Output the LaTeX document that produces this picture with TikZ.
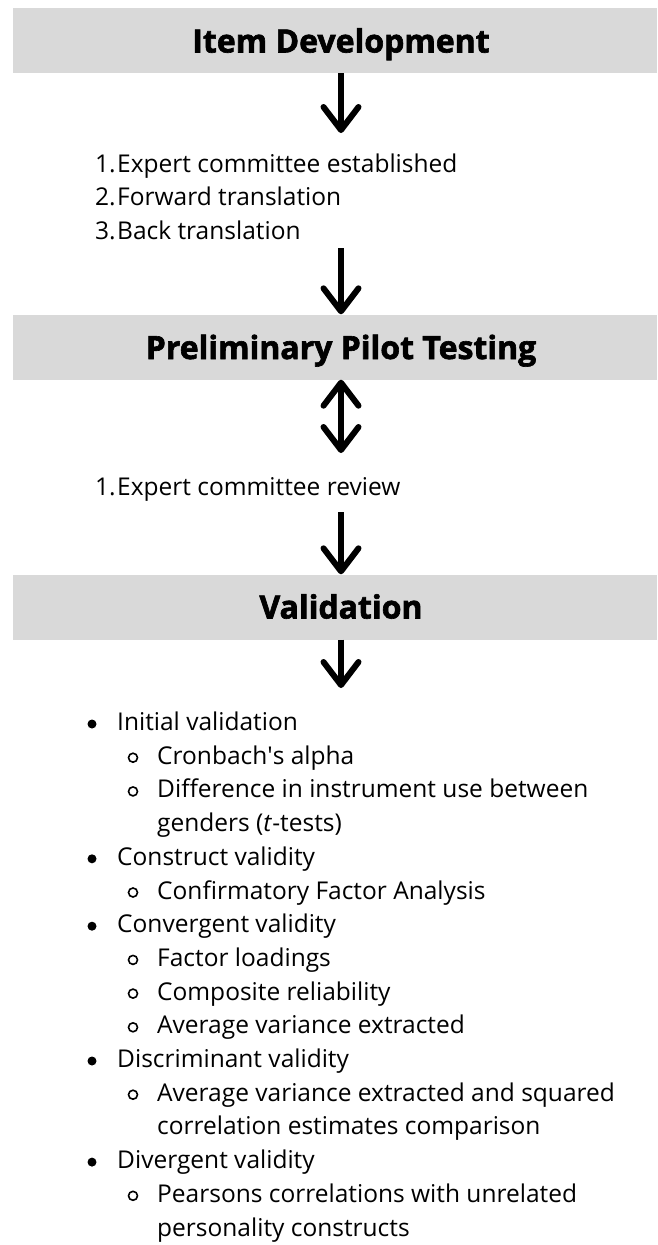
\documentclass[tikz,border=0pt]{standalone}
\usepackage{fontspec}
\setmainfont{Open Sans}
\newfontfamily\headfont{Open Sans}[BoldFeatures={FakeBold=2}]
\usetikzlibrary{arrows.meta}
\definecolor{boxgray}{HTML}{D9D9D9}
\begin{document}
\begin{tikzpicture}[x=1pt,y=-1pt,
  hbox/.style={fill=boxgray, draw=none, minimum width=644pt, minimum height=65pt, inner sep=0pt},
  head/.style={font=\headfont\bfseries\fontsize{32}{32}\selectfont, anchor=base, inner sep=0pt},
  txt/.style={font=\fontsize{24.5}{24.5}\selectfont, anchor=base west, inner sep=0pt},
  arr/.style={line width=6pt, -{Straight Barb[length=23pt,width=35pt,round]}},
  darr/.style={line width=6pt, {Straight Barb[length=23pt,width=35pt,round]}-{Straight Barb[length=23pt,width=35pt,round]}},
  dotb/.style={circle, fill=black, inner sep=0pt, minimum size=9pt},
  ringb/.style={circle, draw=black, line width=1.6pt, inner sep=0pt, minimum size=9pt},
]
\fill[white] (0,0) rectangle (657,1245);
\useasboundingbox (0,0) rectangle (657,1245);

% heading boxes
\node[hbox] (box1) at (335,40.5) {};
\node[head] (t1) at (341,52.5) {Item Development};
\node[hbox] (box2) at (335,347) {};
\node[head] (t2) at (341,359) {Preliminary Pilot Testing};
\node[hbox] (box3) at (335,607) {};
\node[head] (t3) at (341,618.5) {Validation};

% list 1
\node[txt] (n1) at (95,172) {1.};
\node[txt] (l1a) at (117,172) {Expert committee established};
\node[txt] (n2) at (95,205.5) {2.};
\node[txt] (l1b) at (117,205.5) {Forward translation};
\node[txt] (n3) at (95,239) {3.};
\node[txt] (l1c) at (117,239) {Back translation};

% list 2
\node[txt] (n4) at (95,495) {1.};
\node[txt] (r1) at (117,495) {Expert committee review};

% arrows
\coordinate (a1e) at (341,133);
\coordinate (a2s) at (341,248);
\coordinate (a3e) at (341,453);
\coordinate (a4s) at (341,512);
\coordinate (a5e) at (341,688);
\draw[arr] (t1 |- box1.south) -- (a1e);
\draw[arr] (a2s) -- (t2 |- box2.north);
\draw[darr] (t2 |- box2.south) -- (a3e);
\draw[arr] (a4s) -- (t3 |- box3.north);
\draw[arr] (t3 |- box3.south) -- (a5e);

% validation list
\node[dotb] (b0) at (92,724) {};
\node[txt] (v0) at (117,730.5) {Initial validation};
\node[ringb] (c1) at (133,757.7) {};
\node[txt] (v1) at (157,764.2) {Cronbach\textquotesingle s alpha};
\node[ringb] (c2) at (133,791.4) {};
\node[txt] (v2) at (157,797.9) {Difference in instrument use between};
\node[txt] (v3) at (157,831.6) {genders (\textit{t}-tests)};
\node[dotb] (b4) at (92,858.8) {};
\node[txt] (v4) at (117,865.3) {Construct validity};
\node[ringb] (c5) at (133,892.5) {};
\node[txt] (v5) at (157,899) {Confirmatory Factor Analysis};
\node[dotb] (b6) at (92,926.2) {};
\node[txt] (v6) at (117,932.7) {Convergent validity};
\node[ringb] (c7) at (133,959.9) {};
\node[txt] (v7) at (157,966.4) {Factor loadings};
\node[ringb] (c8) at (133,993.6) {};
\node[txt] (v8) at (157,1000.1) {Composite reliability};
\node[ringb] (c9) at (133,1027.3) {};
\node[txt] (v9) at (157,1033.8) {Average variance extracted};
\node[dotb] (b10) at (92,1061) {};
\node[txt] (v10) at (117,1067.5) {Discriminant validity};
\node[ringb] (c11) at (133,1094.7) {};
\node[txt] (v11) at (157,1101.2) {Average variance extracted and squared};
\node[txt] (v12) at (157,1134.9) {correlation estimates comparison};
\node[dotb] (b13) at (92,1162.1) {};
\node[txt] (v13) at (117,1168.6) {Divergent validity};
\node[ringb] (c14) at (133,1195.8) {};
\node[txt] (v14) at (157,1202.3) {Pearsons correlations with unrelated};
\node[txt] (v15) at (157,1236) {personality constructs};
\end{tikzpicture}
\end{document}
